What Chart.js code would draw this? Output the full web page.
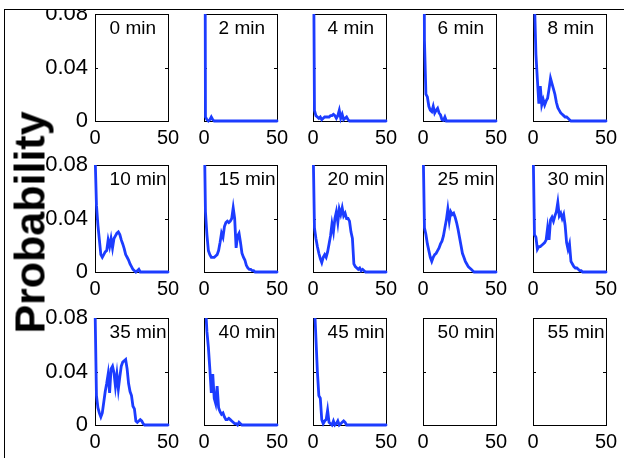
<!DOCTYPE html>
<html>
<head>
<meta charset="utf-8">
<script src="https://cdn.jsdelivr.net/npm/chart.js@4.4.1/dist/chart.umd.min.js"></script>
<style>
  html, body { margin: 0; padding: 0; background: #fff; }
  #fig { position: relative; width: 624px; height: 458px; overflow: hidden; background: #fff; }
  #fig canvas { position: absolute; }
  #mask { position: absolute; left: 0; top: 0; width: 624px; height: 9px; background: #fff; z-index: 2; }
  #frame { position: absolute; left: 4px; top: 9px; width: 640px; height: 470px;
           border-top: 1px solid #000; border-left: 1px solid #000; z-index: 3; }
  #ylabel { position: absolute; left: -123px; top: 201px; width: 300px; height: 43px;
            line-height: 43px; text-align: center; transform: rotate(-90deg);
            font: bold 43px "Liberation Sans", Arial, sans-serif; color: #000; z-index: 1; }
</style>
</head>
<body>
<div id="fig">
  <div id="ylabel">Probability</div>
  <div id="mask"></div>
  <div id="frame"></div>
</div>
<script>
// x bins shared by every panel
const xBins = [0, 1, 2, 3, 4, 5, 6, 7, 8, 9, 10, 11, 12, 13, 14, 15, 16, 17, 18, 19,
  20, 21, 22, 23, 24, 25, 26, 27, 28, 29, 30, 31, 32, 33, 34, 35, 36, 37, 38, 39,
  40, 41, 42, 43, 44, 45, 46, 47, 48, 49, 50];

const panelLabels = ['0 min', '2 min', '4 min', '6 min', '8 min',
  '10 min', '15 min', '20 min', '25 min', '30 min',
  '35 min', '40 min', '45 min', '50 min', '55 min'];

const xTicks = [0, 50];
const yTicks = [0, 0.04, 0.08];
const yTickLabels = ['0', '0.04', '0.08'];

// probability per bin, one array per time point (empty = nothing drawn)
const p0 = [];
const p2 = [0.5, 0.003, 0.001, 0, 0.001, 0.003, 0.001, 0, 0, 0,
  0, 0, 0, 0, 0, 0, 0, 0, 0, 0,
  0, 0, 0, 0, 0, 0, 0, 0, 0, 0,
  0, 0, 0, 0, 0, 0, 0, 0, 0, 0,
  0, 0, 0, 0, 0, 0, 0, 0, 0, 0, 0];
const p4 = [0.2, 0.008, 0.004, 0.003, 0.002, 0.003, 0.001, 0.002, 0.003, 0.003,
  0.003, 0.003, 0.004, 0.004, 0.005, 0.004, 0.002, 0.004, 0.008, 0.002,
  0.005, 0.001, 0.002, 0.003, 0.001, 0, 0, 0, 0, 0,
  0, 0, 0, 0, 0, 0, 0, 0, 0, 0,
  0, 0, 0, 0, 0, 0, 0, 0, 0, 0, 0];
const p6 = [0.3, 0.06, 0.02, 0.018, 0.011, 0.008, 0.007, 0.011, 0.006, 0.008,
  0.0095, 0.006, 0.0045, 0.001, 0.0005, 0.003, 0, 0, 0, 0,
  0, 0, 0, 0, 0, 0, 0, 0, 0, 0,
  0, 0, 0, 0, 0, 0, 0, 0, 0, 0,
  0, 0, 0, 0, 0, 0, 0, 0, 0, 0, 0];
const p8 = [0.25, 0.09, 0.05, 0.031, 0.013, 0.026, 0.012, 0.016, 0.012, 0.015,
  0.017, 0.024, 0.032, 0.028, 0.024, 0.02, 0.014, 0.01, 0.008, 0.006,
  0.005, 0.004, 0.003, 0.003, 0.002, 0.001, 0, 0, 0, 0,
  0, 0, 0, 0, 0, 0, 0, 0, 0, 0,
  0, 0, 0, 0, 0, 0, 0, 0, 0, 0, 0];
const p10 = [0.09, 0.05, 0.035, 0.024, 0.013, 0.011, 0.013, 0.015, 0.016, 0.024,
  0.019, 0.025, 0.018, 0.025, 0.027, 0.029, 0.030, 0.028, 0.024, 0.021,
  0.0175, 0.013, 0.011, 0.009, 0.006, 0.004, 0.002, 0.001, 0, 0.001,
  0.002, 0, 0, 0, 0, 0, 0, 0, 0, 0,
  0, 0, 0, 0, 0, 0, 0, 0, 0, 0, 0];
const p15 = [0.12, 0.045, 0.028, 0.016, 0.013, 0.011, 0.011, 0.011, 0.012, 0.013,
  0.016, 0.022, 0.029, 0.026, 0.034, 0.037, 0.038, 0.037, 0.038, 0.040,
  0.048, 0.040, 0.018, 0.027, 0.029, 0.022, 0.014, 0.011, 0.009, 0.005,
  0.003, 0.002, 0.002, 0.001, 0.001, 0, 0, 0, 0, 0,
  0, 0, 0, 0, 0, 0, 0, 0, 0, 0, 0];
const p20 = [0.1, 0.033, 0.025, 0.019, 0.014, 0.01, 0.007, 0.011, 0.013, 0.011,
  0.015, 0.021, 0.027, 0.036, 0.03, 0.04, 0.045, 0.037, 0.047, 0.043,
  0.048, 0.042, 0.044, 0.04, 0.04, 0.038, 0.03, 0.025, 0.006, 0.004,
  0.003, 0.002, 0.003, 0.001, 0.002, 0.001, 0, 0, 0, 0,
  0, 0, 0, 0, 0, 0, 0, 0, 0, 0, 0];
const p25 = [0.1, 0.033, 0.028, 0.021, 0.016, 0.011, 0.008, 0.011, 0.013, 0.014,
  0.016, 0.018, 0.021, 0.023, 0.027, 0.033, 0.039, 0.047, 0.038, 0.045,
  0.043, 0.044, 0.041, 0.037, 0.032, 0.026, 0.02, 0.014, 0.011, 0.008,
  0.006, 0.004, 0.003, 0.002, 0.001, 0, 0, 0, 0, 0,
  0, 0, 0, 0, 0, 0, 0, 0, 0, 0, 0];
const p30 = [0.1, 0.028, 0.026, 0.017, 0.019, 0.019, 0.020, 0.021, 0.022, 0.024,
  0.033, 0.024, 0.039, 0.041, 0.038, 0.042, 0.045, 0.052, 0.042, 0.044,
  0.04, 0.043, 0.035, 0.022, 0.017, 0.021, 0.008, 0.006, 0.004, 0.003,
  0.003, 0.002, 0.001, 0.001, 0, 0, 0, 0, 0, 0,
  0, 0, 0, 0, 0, 0, 0, 0, 0, 0, 0];
const p35 = [0.09, 0.022, 0.013, 0.009, 0.006, 0.009, 0.017, 0.025, 0.031, 0.038,
  0.024, 0.042, 0.044, 0.039, 0.029, 0.038, 0.027, 0.036, 0.044, 0.047,
  0.048, 0.049, 0.042, 0.031, 0.025, 0.022, 0.014, 0.012, 0.003, 0.002,
  0.003, 0.004, 0.003, 0.001, 0, 0, 0, 0, 0, 0,
  0, 0, 0, 0, 0, 0, 0, 0, 0, 0, 0];
const p40 = [0.15, 0.09, 0.07, 0.058, 0.042, 0.024, 0.038, 0.02, 0.016, 0.029,
  0.013, 0.01, 0.008, 0.009, 0.006, 0.004, 0.004, 0.005, 0.004, 0.003,
  0.002, 0.001, 0.001, 0, 0.002, 0.001, 0, 0, 0, 0,
  0, 0, 0, 0, 0, 0, 0, 0, 0, 0,
  0, 0, 0, 0, 0, 0, 0, 0, 0, 0, 0];
const p45 = [0.2, 0.09, 0.065, 0.04, 0.022, 0.02, 0.004, 0.001, 0.003, 0.004,
  0.011, 0.002, 0.001, 0, 0.003, 0, 0.001, 0.003, 0, 0.001,
  0.002, 0.003, 0.002, 0, 0, 0, 0, 0, 0, 0,
  0, 0, 0, 0, 0, 0, 0, 0, 0, 0,
  0, 0, 0, 0, 0, 0, 0, 0, 0, 0, 0];
const p50 = [];
const p55 = [];

const panelData = [p0, p2, p4, p6, p8, p10, p15, p20, p25, p30, p35, p40, p45, p50, p55];

// layout of the 3x5 grid (plot box positions in page pixels)
const colLeft = [95, 204, 313, 423, 533];
const rowTop = [14, 165, 318];
const boxW = 73, boxH = 107;
const axisW = 60, axisH = 30, padTop = 14, padRight = 14;
const FONT = '"Liberation Sans", Arial, sans-serif';
const BLUE = '#1c3cff';

// black box + small inward ticks at 0.04
const boxPlugin = {
    id: 'box',
    beforeDatasetsDraw(chart) {
        const { ctx, chartArea: a, scales } = chart;
        ctx.save();
        ctx.strokeStyle = '#000';
        ctx.lineWidth = 1;
        ctx.strokeRect(Math.round(a.left) + 0.5, Math.round(a.top) + 0.5,
            Math.round(a.right - a.left), Math.round(a.bottom - a.top));
        const y = Math.round(scales.y.getPixelForValue(0.04)) + 0.5;
        ctx.beginPath();
        ctx.moveTo(a.left, y); ctx.lineTo(a.left + 3, y);
        ctx.moveTo(a.right - 3, y); ctx.lineTo(a.right, y);
        ctx.stroke();
        ctx.restore();
    }
};

// "N min" label inside each box
const titlePlugin = {
    id: 'panelTitle',
    afterDatasetsDraw(chart, args, opts) {
        const { ctx, chartArea: a, scales } = chart;
        ctx.save();
        ctx.beginPath();
        ctx.rect(a.left, a.top, a.right - a.left + 1, a.bottom - a.top);
        ctx.clip();
        ctx.fillStyle = '#000';
        ctx.font = '19px ' + FONT;
        ctx.textAlign = 'left';
        ctx.textBaseline = 'alphabetic';
        ctx.fillText(opts.text, scales.x.getPixelForValue(10), a.top + 20);
        ctx.restore();
    }
};

const fig = document.getElementById('fig');

panelLabels.forEach((label, i) => {
    const r = Math.floor(i / 5), c = i % 5;
    const canvas = document.createElement('canvas');
    canvas.width = axisW + boxW + padRight;
    canvas.height = padTop + boxH + axisH;
    canvas.style.left = (colLeft[c] - axisW) + 'px';
    canvas.style.top = (rowTop[r] - padTop) + 'px';
    fig.appendChild(canvas);

    new Chart(canvas, {
        type: 'line',
        data: {
            labels: xBins,
            datasets: [{
                data: panelData[i],
                borderColor: BLUE,
                borderWidth: 2.8,
                borderCapStyle: 'round',
                pointRadius: 0,
                tension: 0,
                fill: false,
                clip: { left: 3, top: 0, right: 3, bottom: 3 }
            }]
        },
        options: {
            responsive: false,
            animation: false,
            events: [],
            layout: { autoPadding: false, padding: { left: 0, right: padRight, top: padTop, bottom: 0 } },
            plugins: {
                legend: { display: false },
                tooltip: { enabled: false },
                panelTitle: { text: label }
            },
            scales: {
                x: {
                    type: 'linear',
                    min: 0, max: 50,
                    afterBuildTicks: s => { s.ticks = xTicks.map(v => ({ value: v })); },
                    afterFit: s => { s.height = axisH; s.paddingLeft = 0; s.paddingRight = 0; },
                    grid: { display: false, drawTicks: false },
                    border: { display: false },
                    ticks: { color: '#000', padding: 5, maxRotation: 0, font: { family: FONT, size: 20 } }
                },
                y: {
                    min: 0, max: 0.08,
                    afterBuildTicks: s => { s.ticks = yTicks.map(v => ({ value: v })); },
                    afterFit: s => { s.width = axisW; s.paddingTop = 0; s.paddingBottom = 0; },
                    grid: { display: false, drawTicks: false },
                    border: { display: false },
                    ticks: {
                        display: c === 0,
                        color: '#000',
                        padding: 7,
                        font: { family: FONT, size: 22 },
                        callback: v => yTickLabels[yTicks.indexOf(v)]
                    }
                }
            }
        },
        plugins: [boxPlugin, titlePlugin]
    });
});
</script>
</body>
</html>
